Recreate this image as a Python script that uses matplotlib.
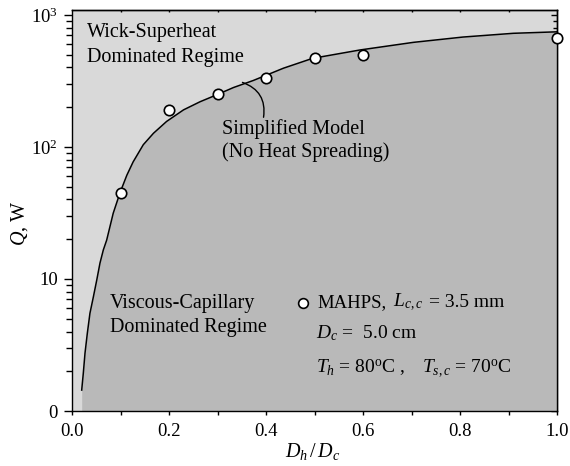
import numpy as np
import matplotlib
matplotlib.use('Agg')
import matplotlib.pyplot as plt

# 字体：Times 风格
plt.rcParams['font.family'] = ['Liberation Serif', 'DejaVu Serif']
plt.rcParams['mathtext.fontset'] = 'custom'
plt.rcParams['mathtext.rm'] = 'Liberation Serif'
plt.rcParams['mathtext.it'] = 'Liberation Serif:italic'
plt.rcParams['font.size'] = 13.5

# ===================== data =====================
# simplified model curve
model_x = [0.020, 0.0233, 0.0268, 0.0316, 0.037, 0.044, 0.051, 0.0577, 0.0646,
           0.0715, 0.085, 0.099, 0.113, 0.126, 0.147, 0.168, 0.195, 0.230,
           0.264, 0.298, 0.333, 0.374, 0.436, 0.496, 0.594, 0.704, 0.806,
           0.91, 1.0]
model_q = [1.44, 1.93, 2.74, 3.88, 5.5, 7.3, 9.8, 13.2, 16.6,
           19.7, 31.5, 45, 61, 77, 104, 127, 156, 191,
           220, 248, 282, 319, 395, 469, 543, 620, 680,
           726, 745]

# MAHPS measurements
meas_x = [0.1, 0.2, 0.3, 0.4, 0.5, 0.6, 1.0]
meas_q = [45, 192, 254, 331, 469, 493, 666]

x_ticks = [0.0, 0.2, 0.4, 0.6, 0.8, 1.0]
x_ticklabels = ['0.0', '0.2', '0.4', '0.6', '0.8', '1.0']
y_ticks = [1, 10, 100, 1000]
y_ticklabels = ['0', '10', '$10^2$', '$10^3$']

light = '#d9d9d9'
dark = '#b9b9b9'
big = 14.5  # region / annotation text

fig = plt.figure(figsize=(5.7, 4.66), dpi=100)
ax = fig.add_axes([72 / 570, 55 / 466, 485 / 570, 401 / 466])
ax.set_facecolor(light)

ax.fill_between(model_x, 1, model_q, color=dark, lw=0, zorder=1)
ax.plot(model_x, model_q, color='black', lw=1.1, zorder=3)
ax.plot(meas_x, meas_q, 'o', ms=7.5, mfc='white', mec='black', mew=1.2,
        zorder=4, clip_on=False)

ax.set_yscale('log')
ax.set_xlim(0, 1.0)
ax.set_ylim(1, 1090)

ax.set_xticks(x_ticks)
ax.set_xticklabels(x_ticklabels)
ax.set_xticks(np.arange(0.1, 1.0, 0.2), minor=True)
ax.set_yticks(y_ticks)
ax.set_yticklabels(y_ticklabels)

ax.tick_params(axis='y', which='major', direction='out', length=6, width=1, pad=4,
               right=False)
ax.tick_params(axis='y', which='minor', direction='out', length=4, width=1,
               right=False, labelleft=False)
ax.tick_params(axis='x', which='both', direction='out', length=3, width=1, pad=6,
               top=False)

# right / top ticks point inward
sec_y = ax.secondary_yaxis('right')
sec_y.tick_params(which='major', direction='in', length=4.5, width=1, labelright=False)
sec_y.tick_params(which='minor', direction='in', length=3, width=1, labelright=False)
sec_y.set_yticks(y_ticks)
sec_x = ax.secondary_xaxis('top')
sec_x.set_xticks(np.arange(0.1, 1.0, 0.1))
sec_x.tick_params(direction='in', length=1.5, width=1, labeltop=False)

for sp in list(ax.spines.values()) + list(sec_y.spines.values()) + list(sec_x.spines.values()):
    sp.set_linewidth(1)

# labels
fig.text(313 / 570, 1 - 452 / 466, '$D_h\\,/\\,D_c$', ha='center', va='center',
         fontsize=big)
fig.text(20 / 570, 1 - 223 / 466, '$Q$, W', ha='center', va='center', rotation=90,
         fontsize=big)

# region texts
ax.text(0.031, 590, 'Wick-Superheat\nDominated Regime', ha='left', va='center',
        linespacing=1.4, fontsize=big, zorder=5)
ax.text(0.078, 5.3, 'Viscous-Capillary\nDominated Regime', ha='left', va='center',
        linespacing=1.4, fontsize=big, zorder=5)

# model annotation
ax.annotate('', xy=(0.346, 313), xytext=(0.394, 160),
            arrowprops=dict(arrowstyle='-', color='black', lw=1,
                            connectionstyle='arc3,rad=0.45'), zorder=5)
ax.text(0.309, 111, 'Simplified Model\n(No Heat Spreading)', ha='left', va='center',
        linespacing=1.23, fontsize=big, zorder=5)

# legend-like text
ax.plot([0.476], [6.6], 'o', ms=7, mfc='white', mec='black', mew=1.2, zorder=5)
ax.text(0.507, 6.6, 'MAHPS,', ha='left', va='center', fontsize=13.5, zorder=5)
ax.text(0.662, 6.6, '$L_{c,c}$', ha='left', va='center', fontsize=14, zorder=5)
ax.text(0.737, 6.6, '= 3.5 mm', ha='left', va='center', fontsize=14, zorder=5)
ax.text(0.503, 3.9, '$D_c$ =  5.0 cm', ha='left', va='center', fontsize=14, zorder=5)
ax.text(0.503, 2.12, '$T_h$ = 80$^{\\rm o}$C ,', ha='left', va='center', fontsize=14,
        zorder=5)
ax.text(0.722, 2.12, '$T_{s,c}$ = 70$^{\\rm o}$C', ha='left', va='center', fontsize=14,
        zorder=5)

fig.savefig('out.png', dpi=100, facecolor='white')
